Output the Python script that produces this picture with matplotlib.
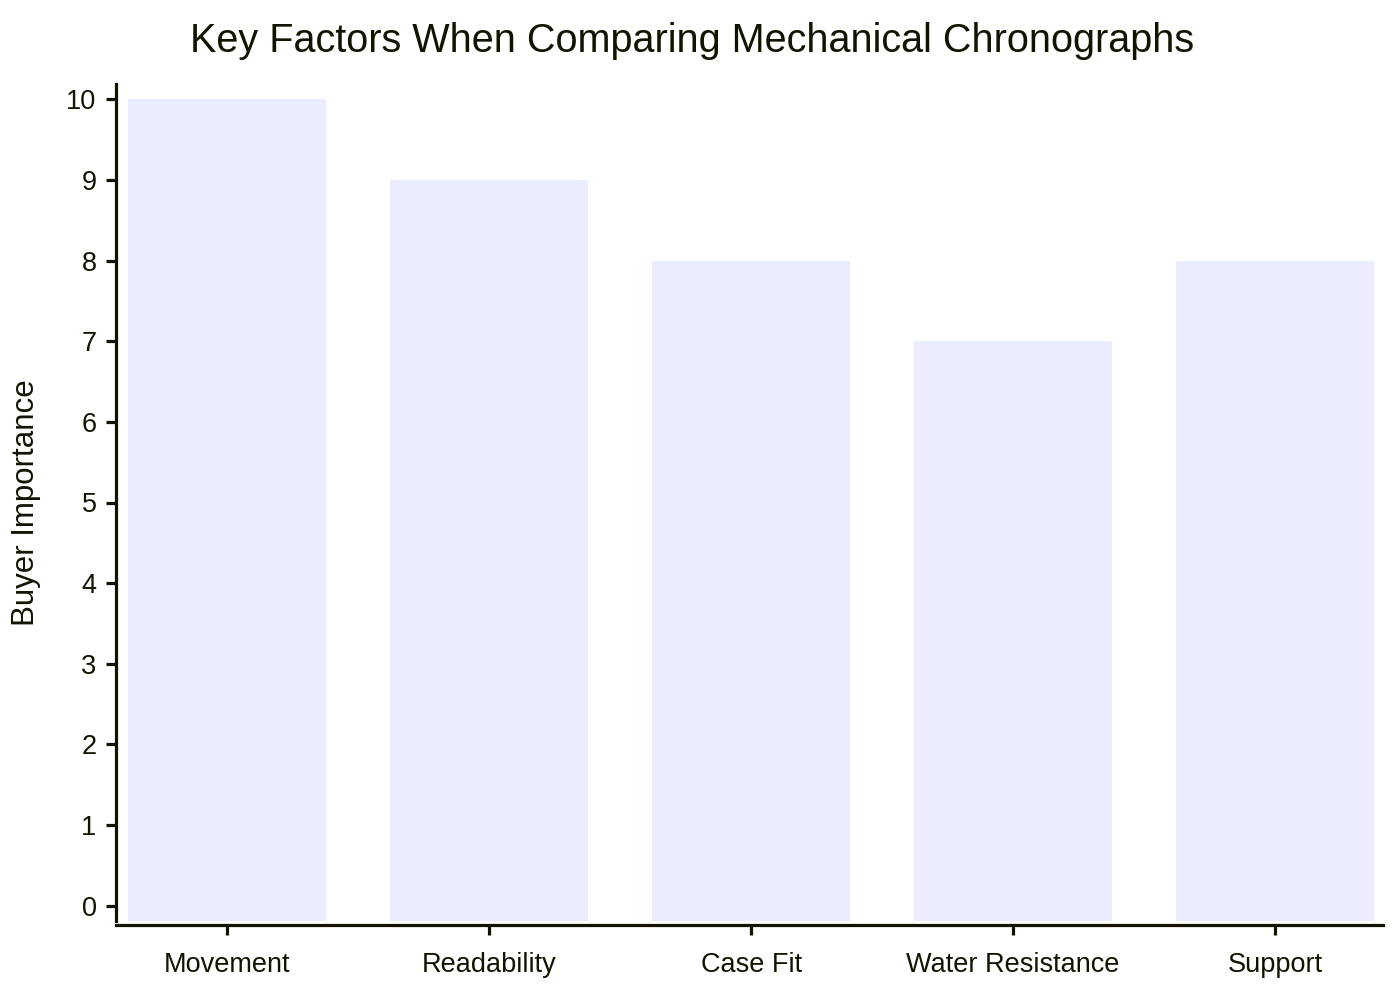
import matplotlib
matplotlib.use("Agg")
import matplotlib.pyplot as plt
import numpy as np

plt.rcParams['font.family'] = ['Liberation Sans', 'DejaVu Sans']

categories = ["Movement", "Readability", "Case Fit", "Water Resistance", "Support"]
importance = [10, 9, 8, 7, 8]

ink = "#131300"
y_low, y_high = -0.19, 10.19

fig = plt.figure(figsize=(14, 10), dpi=100)
ax = fig.add_axes([0.0829, 0.079, 0.905, 0.837])

x = np.arange(len(categories))
vals = np.array(importance, dtype=float)
ax.bar(x, vals - y_low, bottom=y_low, width=0.756, color="#ECECFF", edgecolor="none")

ax.set_xlim(-0.424, 4.412)
ax.set_ylim(y_low, y_high)
ax.set_yticks(range(0, 11))
ax.set_xticks(x)
ax.set_xticklabels(categories)

for s in ["top", "right"]:
    ax.spines[s].set_visible(False)
for s in ["left", "bottom"]:
    ax.spines[s].set_color(ink)
    ax.spines[s].set_linewidth(2.3)
ax.spines["bottom"].set_position(("outward", 3))

ax.tick_params(axis="both", colors=ink, width=2.3, length=7, labelsize=19.5, labelcolor=ink)
ax.tick_params(axis="x", pad=12)
ax.tick_params(axis="y", pad=7)

ax.set_ylabel("Buyer Importance", fontsize=22.5, color=ink, labelpad=18)
fig.suptitle("Key Factors When Comparing Mechanical Chronographs", fontsize=28.5, color=ink, x=0.494, y=0.978)

fig.savefig("out.png", dpi=100, facecolor="white")
